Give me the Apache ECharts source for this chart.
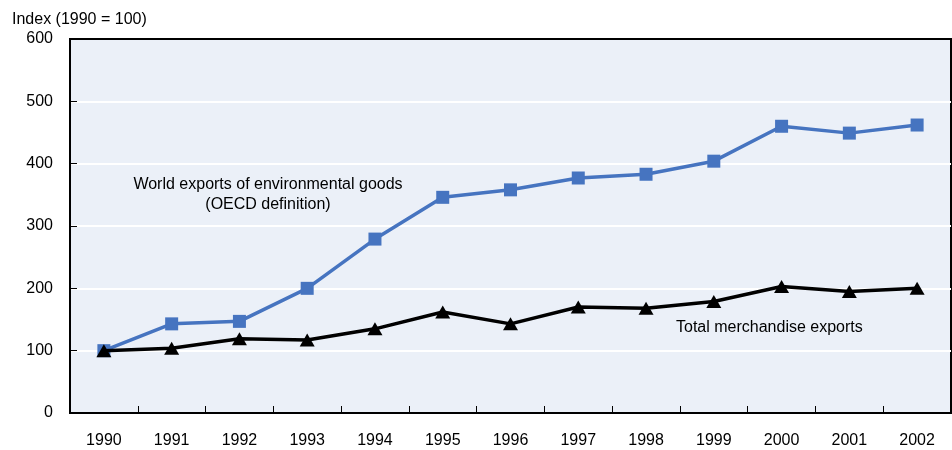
<!DOCTYPE html>
<html><head><meta charset="utf-8">
<script src="https://cdn.jsdelivr.net/npm/echarts@6/dist/echarts.min.js"></script>
<style>html,body{margin:0;padding:0;background:#fff}#c{width:952px;height:450px}</style>
</head><body><div id="c"></div>
<script>
const years = ['1990','1991','1992','1993','1994','1995','1996','1997','1998','1999','2000','2001','2002'];
const envGoods = [100,143,147,200,279,346,358,377,383,404,460,449,462];
const totalMerch = [100,104,119,117,135,162,143,170,168,179,203,195,200];
const yTicks = [0,100,200,300,400,500,600];
const FONT = '"Liberation Sans", Arial, sans-serif';
const chart = echarts.init(document.getElementById('c'));
chart.setOption({
  animation:false,
  textStyle:{fontFamily:FONT},
  grid:{left:70,right:1,top:39,bottom:37,show:true,backgroundColor:'#EBF0F8',borderColor:'#000',borderWidth:2},
  xAxis:{type:'category',data:years,boundaryGap:true,
    axisLine:{lineStyle:{color:'#000',width:2}},
    axisTick:{show:true,inside:true,length:7,lineStyle:{color:'#000',width:1}},
    axisLabel:{color:'#000',fontSize:16,fontFamily:FONT,margin:20},
    splitLine:{show:false}},
  yAxis:{type:'value',min:yTicks[0],max:yTicks[yTicks.length-1],interval:100,
    axisLine:{show:true,lineStyle:{color:'#000',width:2}},
    axisTick:{show:true,inside:true,length:7,lineStyle:{color:'#000',width:1}},
    axisLabel:{color:'#000',fontSize:16,fontFamily:FONT,margin:17},
    splitLine:{show:true,showMinLine:false,showMaxLine:false,lineStyle:{color:'#fff',width:2}}},
  graphic:[
    {type:'text',left:12,top:12,style:{text:'Index (1990 = 100)',fontFamily:FONT,fontSize:16,fill:'#000'}},
    {type:'text',x:268,y:195,style:{text:'World exports of environmental goods\n(OECD definition)',fontFamily:FONT,fontSize:16,fill:'#000',align:'center',verticalAlign:'middle',lineHeight:20}},
    {type:'text',x:676,y:328,style:{text:'Total merchandise exports',fontFamily:FONT,fontSize:16,fill:'#000',verticalAlign:'middle'}}
  ],
  series:[
    {name:'World exports of environmental goods',type:'line',data:envGoods,symbol:'rect',symbolSize:13,
      lineStyle:{color:'#4674C0',width:3.5},itemStyle:{color:'#4674C0'},z:2},
    {name:'Total merchandise exports',type:'line',data:totalMerch,symbol:'triangle',symbolSize:[15,13],
      lineStyle:{color:'#000',width:3.5},itemStyle:{color:'#000'},z:3}
  ]
});
</script></body></html>
